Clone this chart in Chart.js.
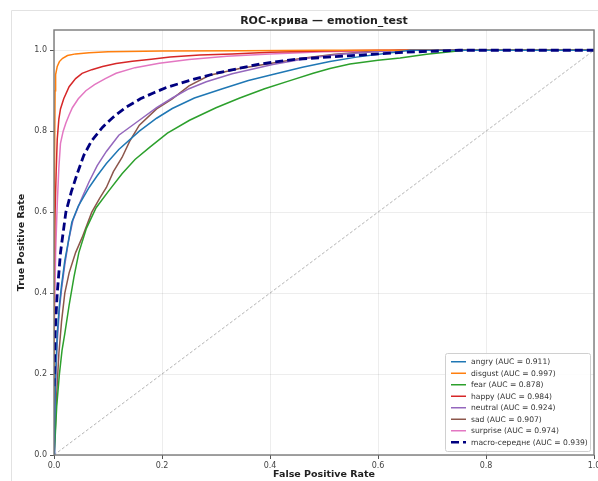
<!DOCTYPE html>
<html>
<head>
<meta charset="utf-8">
<title>ROC-крива — emotion_test</title>
<script src="https://cdn.jsdelivr.net/npm/chart.js@4"></script>
<style>
    html, body { margin: 0; padding: 0; background: #ffffff; }
    #rocChart { display: block; }
</style>
</head>
<body>
<canvas id="rocChart" width="598" height="481"></canvas>
<script>
// ======================================================
// DATA
// ======================================================
const classNames = ["angry", "disgust", "fear", "happy", "neutral", "sad", "surprise"];
const classAuc = [0.911, 0.997, 0.878, 0.984, 0.924, 0.907, 0.974];
const classColors = ["#1f77b4", "#ff7f0e", "#2ca02c", "#d62728", "#9467bd", "#8c564b", "#e377c2"];

const macroLabel = "macro-середнє";
const macroAuc = 0.939;

const tickValues = [0.0, 0.2, 0.4, 0.6, 0.8, 1.0];

// [fpr, tpr] pairs
const angryRoc = [
    [0, 0], [0.001, 0.08], [0.003, 0.2], [0.006, 0.3], [0.01, 0.37], [0.014, 0.42],
    [0.02, 0.48], [0.027, 0.53], [0.033, 0.575], [0.045, 0.615], [0.065, 0.661],
    [0.08, 0.69], [0.097, 0.72], [0.12, 0.755], [0.158, 0.8], [0.19, 0.832],
    [0.219, 0.856], [0.26, 0.882], [0.312, 0.905], [0.36, 0.925], [0.405, 0.94],
    [0.46, 0.958], [0.511, 0.972], [0.56, 0.983], [0.62, 0.993], [0.66, 1], [1, 1]
];
const disgustRoc = [
    [0, 0], [0, 0.55], [0.002, 0.9], [0.003, 0.94], [0.006, 0.96], [0.01, 0.972],
    [0.016, 0.98], [0.025, 0.987], [0.04, 0.991], [0.065, 0.994], [0.1, 0.996],
    [0.2, 0.998], [0.35, 0.999], [0.5, 1], [1, 1]
];
const fearRoc = [
    [0, 0], [0.002, 0.04], [0.005, 0.12], [0.01, 0.2], [0.015, 0.26], [0.02, 0.3],
    [0.028, 0.37], [0.037, 0.44], [0.046, 0.5], [0.06, 0.56], [0.078, 0.611],
    [0.1, 0.65], [0.126, 0.695], [0.15, 0.73], [0.177, 0.76], [0.21, 0.795],
    [0.251, 0.827], [0.3, 0.858], [0.344, 0.882], [0.39, 0.905], [0.437, 0.925],
    [0.48, 0.943], [0.511, 0.955], [0.548, 0.966], [0.6, 0.975], [0.641, 0.981],
    [0.69, 0.99], [0.734, 0.996], [0.76, 1], [1, 1]
];
const happyRoc = [
    [0, 0], [0, 0.42], [0.002, 0.6], [0.004, 0.7], [0.006, 0.78], [0.009, 0.83],
    [0.012, 0.855], [0.018, 0.88], [0.028, 0.91], [0.04, 0.93], [0.052, 0.943],
    [0.07, 0.952], [0.09, 0.96], [0.115, 0.967], [0.145, 0.973], [0.18, 0.978],
    [0.215, 0.983], [0.27, 0.988], [0.33, 0.991], [0.4, 0.995], [0.5, 0.998],
    [0.6, 1], [1, 1]
];
const neutralRoc = [
    [0, 0], [0.001, 0.06], [0.003, 0.18], [0.006, 0.28], [0.01, 0.36], [0.014, 0.41],
    [0.02, 0.47], [0.027, 0.53], [0.035, 0.58], [0.05, 0.63], [0.065, 0.675],
    [0.08, 0.715], [0.097, 0.75], [0.12, 0.79], [0.158, 0.827], [0.19, 0.858],
    [0.219, 0.882], [0.25, 0.905], [0.282, 0.922], [0.33, 0.942], [0.405, 0.965],
    [0.47, 0.98], [0.53, 0.99], [0.6, 0.997], [0.65, 1], [1, 1]
];
const sadRoc = [
    [0, 0], [0.002, 0.05], [0.005, 0.15], [0.009, 0.25], [0.014, 0.33], [0.02, 0.4],
    [0.028, 0.45], [0.04, 0.5], [0.052, 0.537], [0.07, 0.6], [0.085, 0.635],
    [0.097, 0.661], [0.11, 0.7], [0.126, 0.735], [0.14, 0.775], [0.158, 0.815],
    [0.19, 0.855], [0.219, 0.88], [0.25, 0.912], [0.288, 0.938], [0.344, 0.955],
    [0.4, 0.967], [0.46, 0.98], [0.52, 0.99], [0.58, 0.996], [0.64, 1], [1, 1]
];
const surpriseRoc = [
    [0, 0], [0, 0.1], [0.001, 0.3], [0.003, 0.5], [0.006, 0.62], [0.009, 0.71],
    [0.012, 0.77], [0.017, 0.8], [0.022, 0.82], [0.028, 0.84], [0.034, 0.858],
    [0.045, 0.88], [0.059, 0.9], [0.075, 0.915], [0.095, 0.93], [0.115, 0.943],
    [0.15, 0.957], [0.195, 0.968], [0.25, 0.977], [0.32, 0.985], [0.4, 0.991],
    [0.5, 0.996], [0.6, 0.999], [0.68, 1], [1, 1]
];
const macroRoc = [
    [0, 0.17], [0.002, 0.3], [0.006, 0.4], [0.012, 0.5], [0.022, 0.6], [0.032, 0.65],
    [0.043, 0.695], [0.055, 0.74], [0.07, 0.777], [0.09, 0.81], [0.11, 0.835],
    [0.133, 0.859], [0.16, 0.88], [0.185, 0.895], [0.208, 0.908], [0.25, 0.925],
    [0.3, 0.943], [0.381, 0.966], [0.45, 0.978], [0.567, 0.988], [0.65, 0.995],
    [0.75, 1], [1, 1]
];
const chanceLine = [[0, 0], [1, 1]];

const classRocs = [angryRoc, disgustRoc, fearRoc, happyRoc, neutralRoc, sadRoc, surpriseRoc];


// ======================================================
// HELPERS
// ======================================================
function toPoints(pairs) {
    return pairs.map(p => ({ x: p[0], y: p[1] }));
}

function fixedTicks(scale) {
    scale.ticks = tickValues.map(v => ({ value: v }));
}


// ======================================================
// PLUGIN: frame, title, axis labels, box, legend
// ======================================================
const decorPlugin = {

    id: "decor",

    beforeDraw(chart) {
        const c = chart.ctx;
        c.save();
        c.fillStyle = "#ffffff";
        c.fillRect(0, 0, chart.width, chart.height);
        c.strokeStyle = "#e2e2e2";
        c.lineWidth = 1;
        c.beginPath();
        c.moveTo(11.5, chart.height);
        c.lineTo(11.5, 10.5);
        c.lineTo(chart.width, 10.5);
        c.stroke();
        c.restore();
    },

    afterDraw(chart) {
        const c = chart.ctx;
        const a = chart.chartArea;

        c.save();

        // axes box
        c.strokeStyle = "#7a7a7a";
        c.lineWidth = 1.4;
        c.strokeRect(a.left, a.top, a.right - a.left, a.bottom - a.top);

        // title
        c.fillStyle = "#222222";
        c.textAlign = "center";
        c.textBaseline = "middle";
        c.font = "bold 11px 'DejaVu Sans'";
        c.fillText("ROC-крива — emotion_test", (a.left + a.right) / 2, 21);

        // axis labels
        c.font = "bold 9.5px 'DejaVu Sans'";
        c.fillText("False Positive Rate", (a.left + a.right) / 2, 475);
        c.save();
        c.translate(22, (a.top + a.bottom) / 2);
        c.rotate(-Math.PI / 2);
        c.fillText("True Positive Rate", 0, 0);
        c.restore();

        // legend
        const labels = classNames.map((n, i) => n + " (AUC = " + classAuc[i].toFixed(3) + ")");
        labels.push(macroLabel + " (AUC = " + macroAuc.toFixed(3) + ")");
        const colors = classColors.concat(["#000080"]);

        const rowH = 11.5;
        const boxW = 145;
        const boxH = rowH * labels.length + 6;
        const boxX = a.right - 4 - boxW;
        const boxY = a.bottom - 4 - boxH;

        c.fillStyle = "rgba(255,255,255,0.85)";
        c.strokeStyle = "#d0d0d0";
        c.lineWidth = 1;
        c.beginPath();
        c.roundRect(boxX + 0.5, boxY + 0.5, boxW, boxH, 2);
        c.fill();
        c.stroke();

        c.font = "7.6px 'DejaVu Sans'";
        c.textAlign = "left";
        labels.forEach((txt, i) => {
            const y = boxY + 3 + rowH * (i + 0.5);
            const isMacro = i === labels.length - 1;
            c.strokeStyle = colors[i];
            c.lineWidth = isMacro ? 2.6 : 1.5;
            c.setLineDash(isMacro ? [8, 4] : []);
            c.beginPath();
            c.moveTo(boxX + 6, y);
            c.lineTo(boxX + 21, y);
            c.stroke();
            c.setLineDash([]);
            c.fillStyle = "#333333";
            c.fillText(txt, boxX + 26, y + 0.5);
        });

        c.restore();
    }
};


// ======================================================
// ROC CHART
// ======================================================
const datasets = classNames.map((name, i) => ({
    label: name + " (AUC = " + classAuc[i].toFixed(3) + ")",
    data: toPoints(classRocs[i]),
    borderColor: classColors[i],
    borderWidth: 1.5,
    order: 2
}));

datasets.push({
    label: macroLabel + " (AUC = " + macroAuc.toFixed(3) + ")",
    data: toPoints(macroRoc),
    borderColor: "#000080",
    borderWidth: 2.8,
    borderDash: [8, 4],
    order: 1
});

datasets.push({
    label: "chance",
    data: toPoints(chanceLine),
    borderColor: "rgba(120,120,120,0.7)",
    borderWidth: 0.8,
    borderDash: [3, 2],
    order: 3
});

const rocChart = new Chart(document.getElementById("rocChart"), {

    type: "scatter",

    data: { datasets: datasets },

    options: {

        responsive: false,
        animation: false,
        devicePixelRatio: 1,

        showLine: true,
        elements: {
            point: { radius: 0, hoverRadius: 0 },
            line: { tension: 0, fill: false, borderCapStyle: "butt" }
        },

        layout: {
            padding: { left: 0, top: 30, right: 4, bottom: 0 }
        },

        plugins: {
            legend: { display: false },
            tooltip: { enabled: false }
        },

        scales: {

            x: {
                type: "linear",
                min: 0,
                max: 1,
                afterBuildTicks: fixedTicks,
                afterFit(scale) {
                    scale.height = 26;
                    scale.paddingLeft = 0;
                    scale.paddingRight = 0;
                },
                ticks: {
                    color: "#444444",
                    font: { family: "DejaVu Sans", size: 8 },
                    padding: 2,
                    maxRotation: 0,
                    autoSkip: false,
                    callback: v => v.toFixed(1)
                },
                grid: {
                    color: "rgba(0,0,0,0.07)",
                    tickColor: "#555555",
                    tickLength: 4
                },
                border: { display: false }
            },

            y: {
                type: "linear",
                min: 0,
                max: 1.05,
                afterBuildTicks: fixedTicks,
                afterFit(scale) {
                    scale.width = 54;
                    scale.paddingTop = 0;
                    scale.paddingBottom = 0;
                },
                ticks: {
                    color: "#444444",
                    font: { family: "DejaVu Sans", size: 8 },
                    padding: 3,
                    autoSkip: false,
                    callback: v => v.toFixed(1)
                },
                grid: {
                    color: "rgba(0,0,0,0.07)",
                    tickColor: "#555555",
                    tickLength: 4
                },
                border: { display: false }
            }
        }
    },

    plugins: [decorPlugin]
});
</script>
</body>
</html>
